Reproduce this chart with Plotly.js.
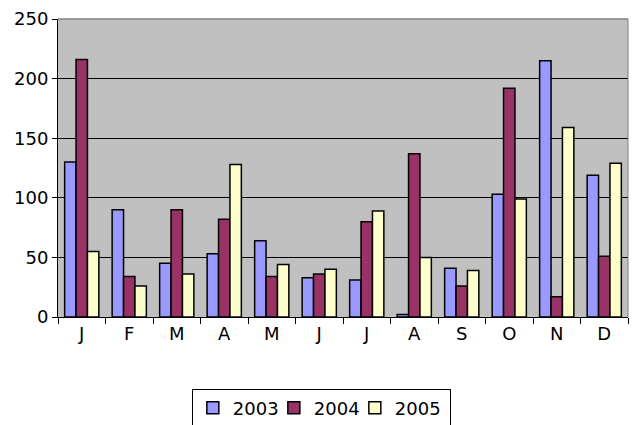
<!DOCTYPE html>
<html>
<head>
<meta charset="utf-8">
<script src="https://cdn.plot.ly/plotly-3.0.1.min.js"></script>
<style>html,body{margin:0;padding:0;background:#fff;}#chart{width:635px;height:425px;}</style>
</head>
<body>
<div id="chart"></div>
<script>
var months = ["J","F","M","A","M","J","J","A","S","O","N","D"];
var monthKeys = ["Jan","Feb","Mar","Apr","May","Jun","Jul","Aug","Sep","Oct","Nov","Dec"];
var seriesNames = ["2003","2004","2005"];
var values2003 = [130, 90, 45, 53, 64, 33, 31, 2, 41, 103, 215, 119];
var values2004 = [216, 34, 90, 82, 34, 36, 80, 137, 26, 192, 17, 51];
var values2005 = [55, 26, 36, 128, 44, 40, 89, 50, 39, 99, 159, 129];
var colors = ["#9999FF", "#993366", "#FFFFCC"];
var yTicks = [0, 50, 100, 150, 200, 250];
var legendWidths = [36, 36, 50];

var allValues = [values2003, values2004, values2005];
var traces = allValues.map(function (vals, i) {
  return {
    type: "bar",
    name: seriesNames[i],
    x: monthKeys,
    y: vals,
    legendwidth: legendWidths[i],
    marker: {color: colors[i], line: {color: "#000000", width: 1.5}},
    hoverinfo: "x+y+name"
  };
});

var layout = {
  width: 635,
  height: 425,
  margin: {l: 58, r: 7, t: 19, b: 108, autoexpand: false},
  paper_bgcolor: "#FFFFFF",
  plot_bgcolor: "#C0C0C0",
  barmode: "group",
  bargap: 0.28,
  bargroupgap: 0,
  font: {family: "DejaVu Sans, Liberation Sans, Arial, sans-serif", size: 18, color: "#000"},
  xaxis: {
    type: "category",
    tickmode: "array",
    tickvals: monthKeys,
    ticktext: months,
    ticks: "outside",
    tickson: "boundaries",
    ticklen: 6,
    tickcolor: "#000",
    showline: true,
    linecolor: "#000",
    linewidth: 1,
    showgrid: false,
    zeroline: false,
    tickfont: {size: 18}
  },
  yaxis: {
    range: [0, 250],
    tickmode: "array",
    tickvals: yTicks,
    ticktext: yTicks.map(String),
    ticks: "outside",
    ticklen: 5,
    tickcolor: "#000",
    showline: true,
    linecolor: "#000",
    linewidth: 1,
    showgrid: true,
    gridcolor: "#000000",
    gridwidth: 1,
    zeroline: false,
    tickfont: {size: 18}
  },
  shapes: [
    {type: "line", xref: "paper", yref: "paper", x0: 0, x1: 1, y0: 1, y1: 1, line: {color: "#808080", width: 1.5}},
    {type: "line", xref: "paper", yref: "paper", x0: 1, x1: 1, y0: 0, y1: 1, line: {color: "#808080", width: 1}}
  ],
  legend: {
    orientation: "h",
    x: 0.462,
    xanchor: "center",
    y: -0.24,
    yanchor: "top",
    bordercolor: "#000",
    borderwidth: 1,
    bgcolor: "#FFF",
    font: {size: 18},
    itemwidth: 30,
    traceorder: "normal"
  },
  showlegend: true
};

Plotly.newPlot("chart", traces, layout, {displayModeBar: false, staticPlot: true});
</script>
</body>
</html>
